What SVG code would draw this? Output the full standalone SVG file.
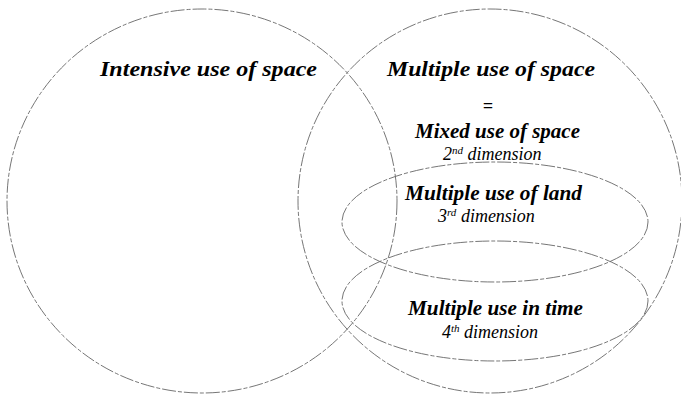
<svg xmlns="http://www.w3.org/2000/svg" width="681" height="394" viewBox="0 0 681 394">
<style>
.ln{fill:none;stroke:#666;stroke-width:0.9;stroke-dasharray:14 2 4 2}
.h{font-family:"Liberation Serif","Times New Roman",serif;font-weight:bold;font-style:italic;font-size:21px;fill:#000;text-anchor:middle}
.d{font-family:"Liberation Serif","Times New Roman",serif;font-style:italic;font-size:18px;fill:#000}
.sup{font-size:11px}
</style>
<rect width="681" height="394" fill="#fff"/>
<g id="connectors"></g>
<g id="intensive">
<ellipse class="ln" cx="202" cy="201" rx="195" ry="192"/>
<text class="h" x="208.5" y="76" textLength="217" lengthAdjust="spacingAndGlyphs">Intensive use of space</text>
</g>
<g id="multiple">
<ellipse class="ln" cx="490" cy="201" rx="192" ry="192"/>
<text class="h" x="491" y="76" textLength="208" lengthAdjust="spacingAndGlyphs">Multiple use of space</text>
<text class="h" x="488" y="112" style="font-size:18px">=</text>
<text class="h" x="497.5" y="138" textLength="165" lengthAdjust="spacingAndGlyphs">Mixed use of space</text>
<text class="d" x="443" y="160">2<tspan class="sup" dy="-6">nd</tspan><tspan dy="6"> dimension</tspan></text>
</g>
<g id="land">
<ellipse class="ln" cx="495" cy="222" rx="153" ry="60"/>
<text class="h" x="493.5" y="200" textLength="177" lengthAdjust="spacingAndGlyphs">Multiple use of land</text>
<text class="d" x="438" y="222">3<tspan class="sup" dy="-6">rd</tspan><tspan dy="6"> dimension</tspan></text>
</g>
<g id="time">
<ellipse class="ln" cx="495" cy="301" rx="153" ry="60"/>
<text class="h" x="495.5" y="315" textLength="175" lengthAdjust="spacingAndGlyphs">Multiple use in time</text>
<text class="d" x="442" y="338">4<tspan class="sup" dy="-6">th</tspan><tspan dy="6"> dimension</tspan></text>
</g>
</svg>
